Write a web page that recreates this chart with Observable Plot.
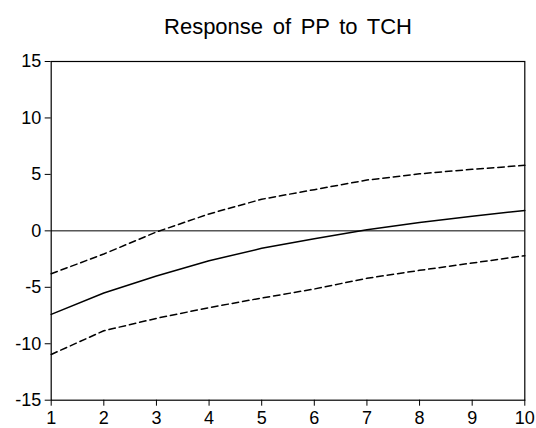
<!DOCTYPE html>
<html>
<head>
<meta charset="utf-8">
<script src="https://cdn.jsdelivr.net/npm/d3@7"></script>
<script src="https://cdn.jsdelivr.net/npm/@observablehq/plot@0.6"></script>
<style>
  html, body { margin: 0; padding: 0; background: white; }
  .title-text text { word-spacing: 3.5px; }
</style>
</head>
<body>
<div id="chart"></div>
<script>
const title = "Response of PP to TCH";
const periods = [1, 2, 3, 4, 5, 6, 7, 8, 9, 10];
const response = [-7.4, -5.5, -4.0, -2.65, -1.55, -0.7, 0.1, 0.75, 1.3, 1.8];
const upperBand = [-3.8, -2.05, -0.1, 1.5, 2.8, 3.65, 4.5, 5.05, 5.45, 5.8];
const lowerBand = [-10.95, -8.85, -7.75, -6.8, -5.95, -5.15, -4.2, -3.5, -2.85, -2.2];
const xTicks = [1, 2, 3, 4, 5, 6, 7, 8, 9, 10];
const yTicks = [-15, -10, -5, 0, 5, 10, 15];

const rows = (vals) => periods.map((p, i) => ({period: p, value: vals[i]}));

const chart = Plot.plot({
  width: 536,
  height: 428,
  marginLeft: 50.7,
  marginRight: 11.7,
  marginTop: 61,
  marginBottom: 28.3,
  style: {fontFamily: "'Liberation Sans', Arial, sans-serif", fontSize: "18px", background: "white", color: "black", overflow: "visible"},
  x: {domain: [1, 10]},
  y: {domain: [-15, 15]},
  marks: [
    Plot.ruleY([0], {stroke: "black", strokeWidth: 1}),
    Plot.line(rows(upperBand), {x: "period", y: "value", stroke: "black", strokeWidth: 1.5, strokeDasharray: "6.5,4"}),
    Plot.line(rows(lowerBand), {x: "period", y: "value", stroke: "black", strokeWidth: 1.5, strokeDasharray: "6.5,4"}),
    Plot.line(rows(response), {x: "period", y: "value", stroke: "black", strokeWidth: 1.5}),
    Plot.frame({stroke: "black", strokeWidth: 1.2}),
    Plot.axisX({ticks: xTicks, tickSize: 6, tickPadding: 5, tickFormat: d => String(d), label: null, fontSize: 18, stroke: "black"}),
    Plot.axisY({ticks: yTicks, tickSize: 6, tickPadding: 4, tickFormat: d => String(d), label: null, fontSize: 18, stroke: "black"}),
    Plot.text([title], {frameAnchor: "top", lineAnchor: "bottom", dy: -27.7, fontSize: 22, fill: "black", className: "title-text"})
  ]
});
document.getElementById("chart").appendChild(chart);
</script>
</body>
</html>
